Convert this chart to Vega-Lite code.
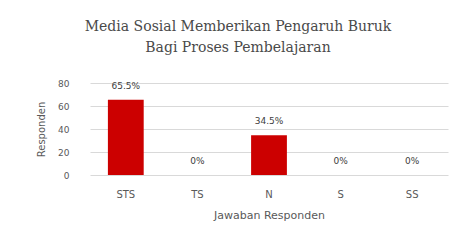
{
  "$schema": "https://vega.github.io/schema/vega-lite/v6.json",
  "autosize": {"type": "none"},
  "width": 358,
  "height": 92,
  "padding": {"left": 90, "top": 83, "right": 6, "bottom": 73},
  "background": "white",
  "title": {
    "text": ["Media Sosial Memberikan Pengaruh Buruk", "Bagi Proses Pembelajaran"],
    "font": "DejaVu Serif",
    "fontSize": 14,
    "fontWeight": "normal",
    "color": "#4a4a4a",
    "anchor": "middle",
    "offset": 24,
    "lineHeight": 21,
    "dx": -31
  },
  "data": {
    "values": [
      {"jawaban": "STS", "responden": 65.5, "label": "65.5%"},
      {"jawaban": "TS", "responden": 0, "label": "0%"},
      {"jawaban": "N", "responden": 34.5, "label": "34.5%"},
      {"jawaban": "S", "responden": 0, "label": "0%"},
      {"jawaban": "SS", "responden": 0, "label": "0%"}
    ]
  },
  "encoding": {
    "x": {
      "field": "jawaban",
      "type": "nominal",
      "sort": null,
      "scale": {"paddingInner": 0.5, "paddingOuter": 0.25},
      "axis": {
        "title": "Jawaban Responden",
        "labelAngle": 0,
        "ticks": false,
        "domain": false,
        "labelPadding": 14,
        "titlePadding": 10,
        "labelFont": "DejaVu Sans",
        "labelFontSize": 10,
        "labelColor": "#595959",
        "titleFont": "DejaVu Sans",
        "titleFontSize": 11,
        "titleFontWeight": "normal",
        "titleColor": "#595959"
      }
    },
    "y": {
      "field": "responden",
      "type": "quantitative",
      "scale": {"domain": [0, 80], "nice": false},
      "axis": {
        "title": "Responden",
        "values": [0, 20, 40, 60, 80],
        "ticks": false,
        "domain": false,
        "gridColor": "#d9d9d9",
        "labelPadding": 21,
        "titlePadding": 11,
        "labelFont": "DejaVu Sans",
        "labelFontSize": 9,
        "labelColor": "#595959",
        "titleFont": "DejaVu Sans",
        "titleFontSize": 10,
        "titleFontWeight": "normal",
        "titleColor": "#595959"
      }
    }
  },
  "layer": [
    {
      "mark": {"type": "bar", "color": "#cc0000"}
    },
    {
      "mark": {"type": "text", "dy": -14, "font": "DejaVu Sans", "fontSize": 9, "color": "#404040"},
      "encoding": {"text": {"field": "label"}}
    }
  ],
  "config": {"view": {"stroke": null}}
}
